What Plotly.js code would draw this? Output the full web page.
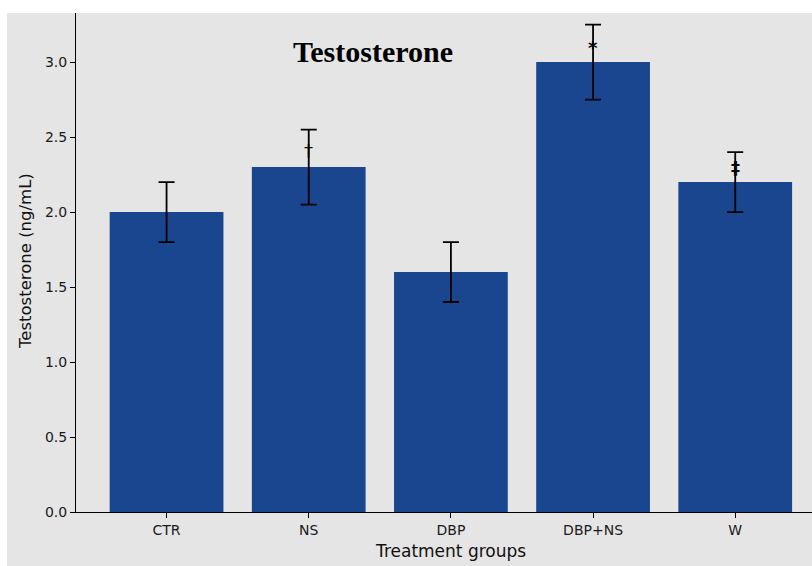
<!DOCTYPE html>
<html>
<head>
<meta charset="utf-8">
<script src="https://cdn.plot.ly/plotly-3.0.1.min.js"></script>
<style>html,body{margin:0;padding:0;background:#fff;}#chart{width:812px;height:566px;}</style>
</head>
<body>
<div id="chart"></div>
<script>
const groups = ["CTR", "NS", "DBP", "DBP+NS", "W"];
const testosterone = [2.0, 2.3, 1.6, 3.0, 2.2];
const errors = [0.2, 0.25, 0.2, 0.25, 0.2];
const sigLabels = ["", "†", "", "*", "‡"];
const sigLevels = [null, 2.41, null, 3.10, 2.30];
const sigBold = [false, false, false, true, true];

const bg = "#e5e5e5";
const trace = {
  type: "bar",
  x: groups,
  y: testosterone,
  marker: {color: "#1a4690", line: {width: 0}},
  error_y: {type: "data", array: errors, visible: true, color: "#000000", thickness: 1.8, width: 8},
  hoverinfo: "skip"
};

const annotations = [];
groups.forEach((g, i) => {
  if (sigLabels[i]) {
    annotations.push({x: g, y: sigLevels[i], xref: "x", yref: "y",
      text: sigBold[i] ? "<b>" + sigLabels[i] + "</b>" : sigLabels[i], showarrow: false,
      xanchor: "center", yanchor: "middle", font: {family: "DejaVu Sans", size: 18, color: "#000"}});
  }
});
annotations.push({x: (373 - 76) / 736, y: (512 - 52) / 499, xref: "paper", yref: "paper", text: "<b>Testosterone</b>",
  showarrow: false, xanchor: "center", yanchor: "middle", font: {family: "Liberation Serif", size: 30, color: "#000"}});
annotations.push({x: (450 - 76) / 736, y: (512 - 551) / 499, xref: "paper", yref: "paper", text: "Treatment groups",
  showarrow: false, xanchor: "center", yanchor: "middle", font: {family: "DejaVu Sans", size: 17, color: "#111"}});
annotations.push({x: (25 - 76) / 736, y: (512 - 261) / 499, xref: "paper", yref: "paper", text: "Testosterone (ng/mL)",
  showarrow: false, textangle: -90, xanchor: "center", yanchor: "middle", font: {family: "DejaVu Sans", size: 16.5, color: "#111"}});

const layout = {
  width: 812, height: 566,
  margin: {l: 76, r: 0, t: 13, b: 54, pad: 0},
  paper_bgcolor: bg, plot_bgcolor: bg,
  showlegend: false,
  bargap: 0.2,
  font: {family: "DejaVu Sans", size: 14, color: "#1a1a1a"},
  xaxis: {type: "category", range: [-0.637, 4.54], showline: true, linecolor: "#000", linewidth: 1,
    ticks: "outside", ticklen: 5, tickcolor: "#000", showgrid: false, zeroline: false, fixedrange: true,
    tickfont: {family: "DejaVu Sans", size: 14, color: "#1a1a1a"}},
  yaxis: {range: [0, 3.327], dtick: 0.5, tick0: 0, tickformat: ".1f", showline: true, linecolor: "#000", linewidth: 1,
    ticks: "outside", ticklen: 5, tickcolor: "#000", showgrid: false, zeroline: false, fixedrange: true,
    tickfont: {family: "DejaVu Sans", size: 14, color: "#1a1a1a"}},
  annotations: annotations,
  shapes: [
    {type: "rect", xref: "paper", yref: "paper", x0: -76 / 736, x1: (7 - 76) / 736, y0: -54 / 499, y1: 1 + 13 / 499,
      fillcolor: "#ffffff", line: {width: 0}, layer: "above"},
    {type: "rect", xref: "paper", yref: "paper", x0: -76 / 736, x1: 1, y0: 1, y1: 1 + 13 / 499,
      fillcolor: "#ffffff", line: {width: 0}, layer: "above"}
  ]
};

Plotly.newPlot("chart", [trace], layout, {displayModeBar: false, staticPlot: true});
</script>
</body>
</html>
